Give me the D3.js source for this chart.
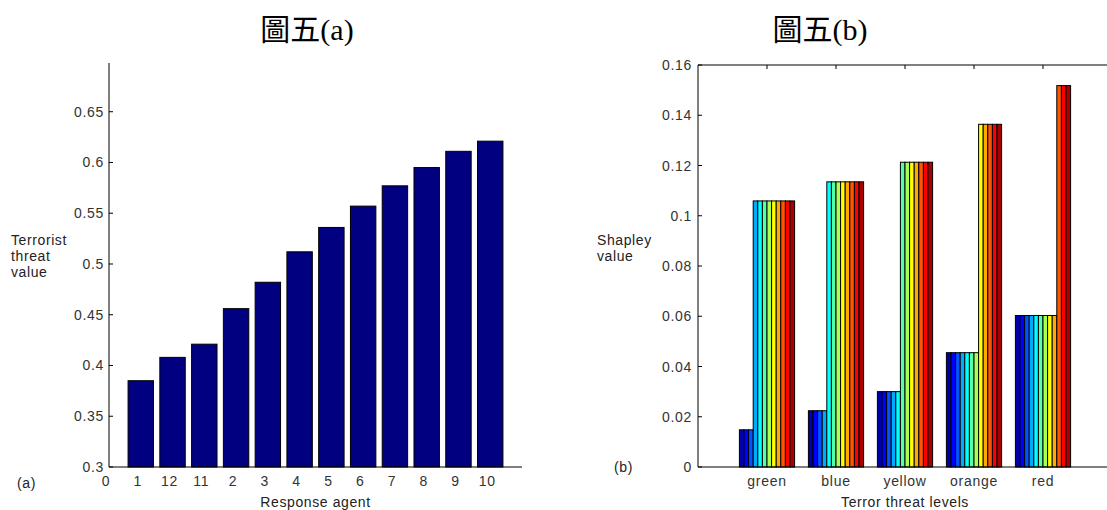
<!DOCTYPE html>
<html>
<head>
<meta charset="utf-8">
<script src="https://cdn.jsdelivr.net/npm/d3@7"></script>
<style>
  body { margin: 0; background: #fff; }
  svg { display: block; }
  .tick-label { font-family: "Liberation Sans", Arial, sans-serif; font-size: 14px; letter-spacing: 0.7px; fill: #333; }
  .axis-label { font-family: "Liberation Sans", Arial, sans-serif; font-size: 14px; letter-spacing: 0.6px; fill: #222; }
  .title { font-family: "Liberation Serif", "Noto Sans CJK TC", serif; font-size: 30px; fill: #000; }
</style>
</head>
<body>
<script>
'use strict';

// ---- data: figure (a) ----
const agentLabels = ['1', '12', '11', '2', '3', '4', '5', '6', '7', '8', '9', '10'];
const threatValues = [0.385, 0.408, 0.421, 0.456, 0.482, 0.512, 0.536, 0.557, 0.577, 0.595, 0.611, 0.621];
const yTicksA = [0.3, 0.35, 0.4, 0.45, 0.5, 0.55, 0.6, 0.65];

// ---- data: figure (b) ----
const threatLevels = ['green', 'blue', 'yellow', 'orange', 'red'];
const lowValues = [0.0148, 0.0224, 0.0300, 0.0455, 0.0603];   // Shapley value of the lower agents
const highValues = [0.1059, 0.1135, 0.1213, 0.1364, 0.1518];  // Shapley value of the upper agents
const lowCounts = [3, 4, 5, 7, 9];                            // how many of the 12 agents sit at the low value
const nSeries = 12;
const yTicksB = [0, 0.02, 0.04, 0.06, 0.08, 0.1, 0.12, 0.14, 0.16];

// MATLAB jet(12)
const jet = [
  [0, 0, 2/3], [0, 0, 1], [0, 1/3, 1], [0, 2/3, 1], [0, 1, 1], [1/3, 1, 2/3],
  [2/3, 1, 1/3], [1, 1, 0], [1, 2/3, 0], [1, 1/3, 0], [1, 0, 0], [2/3, 0, 0]
].map(c => d3.rgb(c[0] * 255, c[1] * 255, c[2] * 255).formatHex());

const W = 1107, H = 510;
const svg = d3.select('body').append('svg').attr('width', W).attr('height', H);

const fmt = v => String(+v.toFixed(3));

// ================= figure (a) =================
const xA = d3.scaleLinear().domain([0, 13]).range([109, 522]);
const yA = d3.scaleLinear().domain([0.3, 0.698]).range([467, 63]);
const gA = svg.append('g');

gA.selectAll('rect.bar')
  .data(threatValues)
  .enter().append('rect')
  .attr('class', 'bar')
  .attr('x', (d, i) => xA(i + 1 - 0.4))
  .attr('width', xA(0.8) - xA(0))
  .attr('y', d => yA(d))
  .attr('height', d => yA(0.3) - yA(d))
  .attr('fill', '#000080')
  .attr('stroke', '#000')
  .attr('stroke-width', 1);

// axes
gA.append('line').attr('x1', xA(0)).attr('x2', xA(0)).attr('y1', yA.range()[1]).attr('y2', yA(0.3))
  .attr('stroke', '#000');
gA.append('line').attr('x1', xA(0)).attr('x2', xA(13)).attr('y1', yA(0.3)).attr('y2', yA(0.3))
  .attr('stroke', '#000');

gA.selectAll('line.ytick').data(yTicksA).enter().append('line')
  .attr('class', 'ytick')
  .attr('x1', xA(0)).attr('x2', xA(0) + 4)
  .attr('y1', d => yA(d)).attr('y2', d => yA(d))
  .attr('stroke', '#000');
gA.selectAll('text.ylab').data(yTicksA).enter().append('text')
  .attr('class', 'tick-label ylab')
  .attr('x', xA(0) - 5).attr('y', d => yA(d) + 5)
  .attr('text-anchor', 'end')
  .text(fmt);

gA.selectAll('text.xlab').data(['0'].concat(agentLabels)).enter().append('text')
  .attr('class', 'tick-label xlab')
  .attr('x', (d, i) => xA(i) - 3).attr('y', 486)
  .attr('text-anchor', 'middle')
  .text(d => d);

gA.append('text').attr('class', 'axis-label').attr('x', xA(6.5)).attr('y', 507)
  .attr('text-anchor', 'middle').text('Response agent');
['Terrorist', 'threat', 'value'].forEach((t, i) => {
  gA.append('text').attr('class', 'axis-label').attr('x', 11).attr('y', 245 + i * 16).text(t);
});
gA.append('text').attr('class', 'axis-label').attr('x', 17).attr('y', 488).text('(a)');
gA.append('text').attr('class', 'title').attr('x', 307).attr('y', 40)
  .attr('text-anchor', 'middle').text('圖五(a)');

// ================= figure (b) =================
const xB = d3.scaleLinear().domain([0, 6]).range([698, 1112]);
const yB = d3.scaleLinear().domain([0, 0.16]).range([467, 65]);
const gB = svg.append('g');

const groupWidth = 0.8;
const barW = groupWidth / nSeries;
const cells = [];
threatLevels.forEach((lvl, g) => {
  d3.range(nSeries).forEach(s => {
    cells.push({
      group: g,
      series: s,
      value: s < lowCounts[g] ? lowValues[g] : highValues[g]
    });
  });
});

gB.selectAll('rect.bar')
  .data(cells)
  .enter().append('rect')
  .attr('class', 'bar')
  .attr('x', d => xB(d.group + 1 - groupWidth / 2 + d.series * barW))
  .attr('width', xB(barW) - xB(0))
  .attr('y', d => yB(d.value))
  .attr('height', d => yB(0) - yB(d.value))
  .attr('fill', d => jet[d.series])
  .attr('stroke', '#000')
  .attr('stroke-width', 1);

// box
gB.append('line').attr('x1', xB(0)).attr('x2', xB(6)).attr('y1', yB(0)).attr('y2', yB(0)).attr('stroke', '#000');
gB.append('line').attr('x1', xB(0)).attr('x2', xB(6)).attr('y1', yB(0.16)).attr('y2', yB(0.16)).attr('stroke', '#000');
gB.append('line').attr('x1', xB(0)).attr('x2', xB(0)).attr('y1', yB(0.16)).attr('y2', yB(0)).attr('stroke', '#000');

gB.selectAll('line.ytick').data(yTicksB).enter().append('line')
  .attr('class', 'ytick')
  .attr('x1', xB(0)).attr('x2', xB(0) + 4)
  .attr('y1', d => yB(d)).attr('y2', d => yB(d))
  .attr('stroke', '#000');
gB.selectAll('line.toptick').data(threatLevels).enter().append('line')
  .attr('class', 'toptick')
  .attr('x1', (d, i) => xB(i + 1)).attr('x2', (d, i) => xB(i + 1))
  .attr('y1', yB(0.16)).attr('y2', yB(0.16) + 4)
  .attr('stroke', '#000');
gB.selectAll('text.ylab').data(yTicksB).enter().append('text')
  .attr('class', 'tick-label ylab')
  .attr('x', xB(0) - 6).attr('y', d => yB(d) + 5)
  .attr('text-anchor', 'end')
  .text(fmt);

gB.selectAll('text.xlab').data(threatLevels).enter().append('text')
  .attr('class', 'tick-label xlab')
  .attr('x', (d, i) => xB(i + 1)).attr('y', 486)
  .attr('text-anchor', 'middle')
  .text(d => d);

gB.append('text').attr('class', 'axis-label').attr('x', xB(3)).attr('y', 507)
  .attr('text-anchor', 'middle').text('Terror threat levels');
['Shapley', 'value'].forEach((t, i) => {
  gB.append('text').attr('class', 'axis-label').attr('x', 597).attr('y', 245 + i * 16).text(t);
});
gB.append('text').attr('class', 'axis-label').attr('x', 614).attr('y', 472).text('(b)');
gB.append('text').attr('class', 'title').attr('x', 820).attr('y', 40)
  .attr('text-anchor', 'middle').text('圖五(b)');
</script>
</body>
</html>
